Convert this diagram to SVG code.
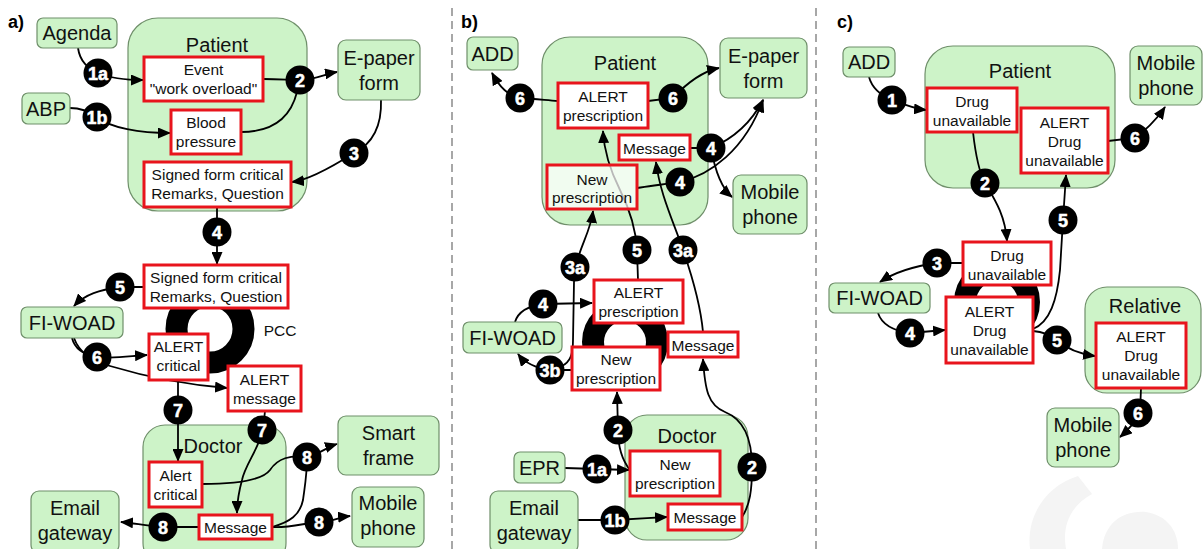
<svg xmlns="http://www.w3.org/2000/svg" width="1203" height="549" viewBox="0 0 1203 549">
  <style>
    .bg { fill: #ffffff; }
    .sep { stroke: #8a8a8a; stroke-width: 1.5; stroke-dasharray: 8 5; fill: none; }
    .g { fill: #cdf3c8; stroke: #6f8f6a; stroke-width: 1.2; }
    .r { fill: #ffffff; stroke: #e8141c; stroke-width: 3; }
    .rt { fill: #ffffff; fill-opacity: 0.72; stroke: #e8141c; stroke-width: 3; }
    .ring { fill: none; stroke: #000000; stroke-width: 22; }
    .c { fill: none; stroke: #000000; stroke-width: 1.8; marker-end: url(#ah); }
    .cn { fill: none; stroke: #000000; stroke-width: 1.8; }
    text { font-family: "Liberation Sans", Arial, sans-serif; fill: #111111; text-anchor: middle; }
    .big { font-size: 20px; }
    .sm { font-size: 15.5px; }
    .lbl { font-size: 18px; font-weight: bold; text-anchor: start; fill: #000; }
    .n circle { fill: #000000; }
    .n text { fill: #ffffff; font-size: 18px; font-weight: bold; stroke: #ffffff; stroke-width: 0.5; }
    .wm { fill: #f4f4f4; }
  </style>
  <defs>
    <marker id="ah" markerUnits="userSpaceOnUse" markerWidth="13" markerHeight="11" refX="12" refY="5.5" orient="auto">
      <path d="M0,0 L13,5.5 L0,11 z" fill="#000000"/>
    </marker>
  </defs>

  <rect class="bg" x="0" y="0" width="1203" height="549"/>

  <!-- faint logo in the lower right corner -->
  <g id="logo">
    <path class="wm" d="M1078,476 C1046,486 1026,516 1030,549 L1066,549 C1062,526 1070,506 1092,494 Z"/>
    <path class="wm" d="M1102,549 C1104,524 1122,510 1146,512 C1166,515 1178,530 1178,549 Z"/>
  </g>

  <!-- panel separators -->
  <g id="separators">
    <line class="sep" x1="452" y1="8" x2="452" y2="549"/>
    <line class="sep" x1="816" y1="8" x2="816" y2="549"/>
  </g>

  <!-- panel labels -->
  <text class="lbl" x="8" y="28">a)</text>
  <text class="lbl" x="461" y="28">b)</text>
  <text class="lbl" x="837" y="28">c)</text>

  <!-- containers -->
  <g id="a-patient"><rect class="g" x="128" y="18" width="179" height="193" rx="30"/><text class="big" x="217" y="52">Patient</text></g>
  <g id="a-doctor"><rect class="g" x="143" y="425" width="143" height="140" rx="22"/><text class="big" x="213" y="453">Doctor</text></g>
  <g id="b-patient"><rect class="g" x="542" y="37" width="166" height="188" rx="28"/><text class="big" x="625" y="70">Patient</text></g>
  <g id="b-doctor"><rect class="g" x="625" y="415" width="123" height="125" rx="22"/><text class="big" x="687" y="443">Doctor</text></g>
  <g id="c-patient"><rect class="g" x="925" y="46" width="190" height="142" rx="28"/><text class="big" x="1020" y="78">Patient</text></g>
  <g id="c-relative"><rect class="g" x="1085" y="287" width="116" height="106" rx="22"/><text class="big" x="1145" y="313">Relative</text></g>

  <!-- PCC rings -->
  <g id="a-pcc"><circle class="ring" cx="210" cy="329" r="33.5"/><text class="sm" x="280" y="336">PCC</text></g>
  <g id="b-pcc"><circle class="ring" cx="625" cy="342" r="32"/></g>
  <g id="c-pcc"><circle class="ring" cx="997" cy="302" r="32"/></g>

  <!-- connectors -->
  <g id="connectors">
    <!-- a -->
    <path class="c" d="M78,48 C80,62 88,68 98,73 C112,79 126,80 143,80"/>
    <path class="c" d="M70,108 C82,108 90,112 97,117 C110,128 140,133 170,133"/>
    <path class="c" d="M263,79 C280,79 290,80 300,80 C315,80 325,74 337,72"/>
    <path class="cn" d="M241,132 C270,132 290,120 297,92"/>
    <path class="c" d="M381,100 C382,130 370,145 354,153 C335,165 310,180 292,182"/>
    <path class="c" d="M217,207 L217,264"/>
    <path class="c" d="M144,287 L120,287 C100,290 85,294 74,306"/>
    <path class="c" d="M72,338 C75,350 85,355 97,357 C115,359 130,356 147,355"/>
    <path class="c" d="M74,338 C80,355 95,362 110,366 C150,378 190,385 227,388"/>
    <path class="c" d="M178,380 L178,461"/>
    <path class="c" d="M265,411 L263,430 C258,450 245,465 242,480 C238,495 237,503 237,513"/>
    <path class="c" d="M202,484 C230,484 262,481 270,470 C278,458 290,455 307,457 C318,455 327,447 337,444"/>
    <path class="cn" d="M272,527 C290,522 300,515 303,500 C305,485 307,475 307,457"/>
    <path class="c" d="M272,527 C290,528 305,523 319,522 C330,522 340,517 350,516"/>
    <path class="c" d="M199,527 L163,527 C145,526 135,523 121,522"/>
    <!-- b -->
    <path class="c" d="M558,101 C545,100 535,99 520,98 C508,95 500,88 492,73"/>
    <path class="c" d="M648,101 L673,98 C685,85 700,72 719,68"/>
    <path class="c" d="M690,148 L711,148 C730,140 750,125 763,100"/>
    <path class="c" d="M711,148 C714,165 719,186 732,197"/>
    <path class="c" d="M637,188 C650,186 665,184 680,182 C710,175 745,150 763,100"/>
    <path class="c" d="M572,370 L550,370 C535,368 525,363 518,354"/>
    <path class="c" d="M562,366 C570,362 573,355 573,340 L574,282 C575,252 590,236 593,211"/>
    <path class="c" d="M638,280 L637,250 C636,230 630,210 620,190 C610,170 604,150 603,131"/>
    <path class="c" d="M703,332 C700,300 690,270 683,250 C675,225 660,195 656,162"/>
    <path class="c" d="M515,322 C518,312 528,306 543,304 L592,303"/>
    <path class="c" d="M630,470 C622,460 618,445 618,430 L617,392"/>
    <path class="c" d="M565,468 L597,469 L629,470"/>
    <path class="c" d="M578,520 L615,520 C630,519 650,518 667,517"/>
    <path class="c" d="M742,517 C750,505 752,490 752,467 C752,440 745,420 725,412 C708,405 705,390 703,359"/>
    <!-- c -->
    <path class="c" d="M869,77 C872,88 880,95 892,100 C905,105 915,109 926,110"/>
    <path class="c" d="M973,132 C975,150 978,170 985,183 C995,200 1005,215 1007,241"/>
    <path class="c" d="M1033,329 C1050,322 1057,300 1060,270 L1063,220 L1066,175"/>
    <path class="c" d="M1108,141 L1135,138 C1145,130 1155,122 1165,107"/>
    <path class="c" d="M963,263 L937,263 C915,266 895,272 880,282"/>
    <path class="c" d="M878,313 C882,325 895,331 910,333 L945,330"/>
    <path class="c" d="M1033,331 C1045,332 1052,336 1057,340 C1068,350 1080,354 1095,356"/>
    <path class="c" d="M1141,388 L1140,413 C1135,423 1128,430 1120,437"/>
  </g>

  <!-- panel a nodes -->
  <g id="a-agenda"><rect class="g" x="37" y="18" width="80" height="30" rx="6"/><text class="big" x="77" y="40">Agenda</text></g>
  <g id="a-abp"><rect class="g" x="22" y="93" width="48" height="31" rx="6"/><text class="big" x="46" y="116">ABP</text></g>
  <g id="a-event"><rect class="r" x="144" y="57" width="119" height="44"/><text class="sm" x="203.5" y="75">Event</text><text class="sm" x="203.5" y="94">"work overload"</text></g>
  <g id="a-blood"><rect class="r" x="171" y="110" width="70" height="44"/><text class="sm" x="206" y="128">Blood</text><text class="sm" x="206" y="147">pressure</text></g>
  <g id="a-signed1"><rect class="r" x="144" y="162" width="147" height="45"/><text class="sm" x="217.5" y="180">Signed form critical</text><text class="sm" x="217.5" y="199">Remarks, Question</text></g>
  <g id="a-epaper"><rect class="g" x="338" y="40" width="82" height="60" rx="8"/><text class="big" x="379" y="65">E-paper</text><text class="big" x="379" y="90">form</text></g>
  <g id="a-signed2"><rect class="r" x="144" y="265" width="144" height="43"/><text class="sm" x="216" y="283">Signed form critical</text><text class="sm" x="216" y="302">Remarks, Question</text></g>
  <g id="a-fiwoad"><rect class="g" x="21" y="307" width="102" height="31" rx="6"/><text class="big" x="72" y="330">FI-WOAD</text></g>
  <g id="a-alert-critical"><rect class="r" x="149" y="334" width="59" height="46"/><text class="sm" x="178.5" y="352">ALERT</text><text class="sm" x="178.5" y="371">critical</text></g>
  <g id="a-alert-message"><rect class="r" x="228" y="366" width="73" height="45"/><text class="sm" x="264.5" y="385">ALERT</text><text class="sm" x="264.5" y="404">message</text></g>
  <g id="a-doc-alert"><rect class="r" x="149" y="462" width="53" height="45"/><text class="sm" x="175.5" y="481">Alert</text><text class="sm" x="175.5" y="500">critical</text></g>
  <g id="a-doc-message"><rect class="r" x="199" y="515" width="73" height="24"/><text class="sm" x="235.5" y="533">Message</text></g>
  <g id="a-smart"><rect class="g" x="338" y="416" width="101" height="59" rx="8"/><text class="big" x="388.5" y="440">Smart</text><text class="big" x="388.5" y="465">frame</text></g>
  <g id="a-mobile"><rect class="g" x="352" y="487" width="72" height="60" rx="8"/><text class="big" x="388" y="510">Mobile</text><text class="big" x="388" y="535">phone</text></g>
  <g id="a-email"><rect class="g" x="31" y="491" width="88" height="62" rx="8"/><text class="big" x="75" y="515">Email</text><text class="big" x="75" y="540">gateway</text></g>

  <!-- panel b nodes -->
  <g id="b-add"><rect class="g" x="467" y="37" width="51" height="33" rx="6"/><text class="big" x="492.5" y="61">ADD</text></g>
  <g id="b-alert-top"><rect class="r" x="558" y="83" width="90" height="45"/><text class="sm" x="603" y="102">ALERT</text><text class="sm" x="603" y="121">prescription</text></g>
  <g id="b-epaper"><rect class="g" x="720" y="38" width="87" height="60" rx="8"/><text class="big" x="763.5" y="63">E-paper</text><text class="big" x="763.5" y="88">form</text></g>
  <g id="b-message-top"><rect class="r" x="619" y="135" width="71" height="25"/><text class="sm" x="654.5" y="154">Message</text></g>
  <g id="b-new-top"><rect class="rt" x="547" y="165" width="90" height="44"/><text class="sm" x="592" y="185">New</text><text class="sm" x="592" y="203">prescription</text></g>
  <g id="b-mobile"><rect class="g" x="733" y="175" width="74" height="59" rx="8"/><text class="big" x="770" y="199">Mobile</text><text class="big" x="770" y="224">phone</text></g>
  <g id="b-fiwoad"><rect class="g" x="463" y="322" width="99" height="31" rx="6"/><text class="big" x="512.5" y="345">FI-WOAD</text></g>
  <g id="b-alert-pcc"><rect class="r" x="594" y="280" width="89" height="43"/><text class="sm" x="638.5" y="298">ALERT</text><text class="sm" x="638.5" y="317">prescription</text></g>
  <g id="b-message-pcc"><rect class="r" x="668" y="332" width="70" height="25"/><text class="sm" x="703" y="351">Message</text></g>
  <g id="b-new-pcc"><rect class="r" x="572" y="347" width="88" height="43"/><text class="sm" x="616" y="365">New</text><text class="sm" x="616" y="384">prescription</text></g>
  <g id="b-new-doc"><rect class="r" x="630" y="451" width="90" height="45"/><text class="sm" x="675" y="470">New</text><text class="sm" x="675" y="489">prescription</text></g>
  <g id="b-epr"><rect class="g" x="514" y="452" width="51" height="31" rx="6"/><text class="big" x="539.5" y="475">EPR</text></g>
  <g id="b-email"><rect class="g" x="490" y="491" width="88" height="62" rx="8"/><text class="big" x="534" y="515">Email</text><text class="big" x="534" y="540">gateway</text></g>
  <g id="b-message-doc"><rect class="r" x="668" y="504" width="74" height="26"/><text class="sm" x="705" y="523">Message</text></g>

  <!-- panel c nodes -->
  <g id="c-add"><rect class="g" x="843" y="47" width="52" height="30" rx="6"/><text class="big" x="869" y="69">ADD</text></g>
  <g id="c-drug-top"><rect class="r" x="927" y="88" width="90" height="44"/><text class="sm" x="972" y="107">Drug</text><text class="sm" x="972" y="126">unavailable</text></g>
  <g id="c-alert-top"><rect class="r" x="1021" y="108" width="87" height="65"/><text class="sm" x="1064.5" y="128">ALERT</text><text class="sm" x="1064.5" y="147">Drug</text><text class="sm" x="1064.5" y="166">unavailable</text></g>
  <g id="c-mobile-top"><rect class="g" x="1130" y="46" width="72" height="59" rx="8"/><text class="big" x="1166" y="70">Mobile</text><text class="big" x="1166" y="95">phone</text></g>
  <g id="c-drug-pcc"><rect class="r" x="963" y="242" width="88" height="43"/><text class="sm" x="1007" y="261">Drug</text><text class="sm" x="1007" y="280">unavailable</text></g>
  <g id="c-fiwoad"><rect class="g" x="829" y="283" width="101" height="30" rx="6"/><text class="big" x="879.5" y="305">FI-WOAD</text></g>
  <g id="c-alert-pcc"><rect class="r" x="946" y="297" width="87" height="66"/><text class="sm" x="989.5" y="317">ALERT</text><text class="sm" x="989.5" y="336">Drug</text><text class="sm" x="989.5" y="355">unavailable</text></g>
  <g id="c-alert-relative"><rect class="r" x="1096" y="323" width="90" height="65"/><text class="sm" x="1141" y="342">ALERT</text><text class="sm" x="1141" y="361">Drug</text><text class="sm" x="1141" y="380">unavailable</text></g>
  <g id="c-mobile-bottom"><rect class="g" x="1047" y="408" width="72" height="59" rx="8"/><text class="big" x="1083" y="432">Mobile</text><text class="big" x="1083" y="457">phone</text></g>

  <!-- step markers -->
  <g id="steps-a" class="n">
    <circle cx="98" cy="73" r="14.5"/><text x="98" y="79.5">1a</text>
    <circle cx="97" cy="117" r="14.5"/><text x="97" y="123.5">1b</text>
    <circle cx="300" cy="80" r="14.5"/><text x="300" y="86.5">2</text>
    <circle cx="354" cy="153" r="14.5"/><text x="354" y="159.5">3</text>
    <circle cx="217" cy="232" r="14.5"/><text x="217" y="238.5">4</text>
    <circle cx="120" cy="287" r="14.5"/><text x="120" y="293.5">5</text>
    <circle cx="97" cy="357" r="14.5"/><text x="97" y="363.5">6</text>
    <circle cx="178" cy="410" r="14.5"/><text x="178" y="416.5">7</text>
    <circle cx="262" cy="430" r="14.5"/><text x="262" y="436.5">7</text>
    <circle cx="307" cy="457" r="14.5"/><text x="307" y="463.5">8</text>
    <circle cx="319" cy="522" r="14.5"/><text x="319" y="528.5">8</text>
    <circle cx="163" cy="527" r="14.5"/><text x="163" y="533.5">8</text>
  </g>
  <g id="steps-b" class="n">
    <circle cx="520" cy="98" r="14.5"/><text x="520" y="104.5">6</text>
    <circle cx="673" cy="98" r="14.5"/><text x="673" y="104.5">6</text>
    <circle cx="711" cy="148" r="14.5"/><text x="711" y="154.5">4</text>
    <circle cx="680" cy="182" r="14.5"/><text x="680" y="188.5">4</text>
    <circle cx="575" cy="267" r="14.5"/><text x="575" y="273.5">3a</text>
    <circle cx="637" cy="250" r="14.5"/><text x="637" y="256.5">5</text>
    <circle cx="683" cy="250" r="14.5"/><text x="683" y="256.5">3a</text>
    <circle cx="543" cy="304" r="14.5"/><text x="543" y="310.5">4</text>
    <circle cx="550" cy="370" r="14.5"/><text x="550" y="376.5">3b</text>
    <circle cx="618" cy="430" r="14.5"/><text x="618" y="436.5">2</text>
    <circle cx="597" cy="469" r="14.5"/><text x="597" y="475.5">1a</text>
    <circle cx="615" cy="520" r="14.5"/><text x="615" y="526.5">1b</text>
    <circle cx="752" cy="467" r="14.5"/><text x="752" y="473.5">2</text>
  </g>
  <g id="steps-c" class="n">
    <circle cx="892" cy="100" r="14.5"/><text x="892" y="106.5">1</text>
    <circle cx="985" cy="183" r="14.5"/><text x="985" y="189.5">2</text>
    <circle cx="1063" cy="220" r="14.5"/><text x="1063" y="226.5">5</text>
    <circle cx="1135" cy="138" r="14.5"/><text x="1135" y="144.5">6</text>
    <circle cx="937" cy="263" r="14.5"/><text x="937" y="269.5">3</text>
    <circle cx="910" cy="333" r="14.5"/><text x="910" y="339.5">4</text>
    <circle cx="1057" cy="340" r="14.5"/><text x="1057" y="346.5">5</text>
    <circle cx="1138" cy="413" r="14.5"/><text x="1138" y="419.5">6</text>
  </g>
</svg>
